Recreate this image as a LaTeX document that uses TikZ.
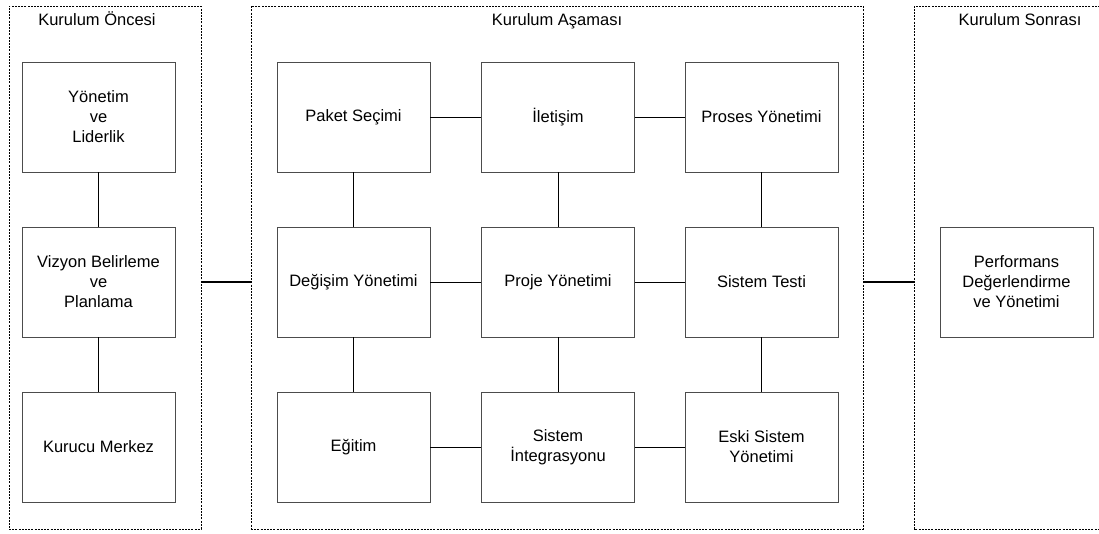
\documentclass[tikz,border=0pt]{standalone}
\usepackage{fontspec}
\setmainfont{Liberation Sans}
\begin{document}
\begin{tikzpicture}[x=1pt,y=-1pt,
  every node/.style={font=\fontsize{16.5}{20}\selectfont},
  blk/.style={draw=black!70, line width=0.9pt, minimum width=153pt, minimum height=110pt, inner sep=0pt, align=center},
  panel/.style={draw=black, line width=0.9pt, dash pattern=on 2pt off 1.2pt, inner sep=0pt},
  link/.style={draw=black, line width=0.9pt},
  thick link/.style={draw=black, line width=2pt},
  ttl/.style={inner sep=0pt, anchor=base}
]
\useasboundingbox (0,0) rectangle (1099,533);
% panels
\node[panel, minimum width=192pt, minimum height=523pt] (lp) at (105,267.5) {};
\node[panel, minimum width=612pt, minimum height=523pt] (mp) at (557,267.5) {};
\draw[panel] (1100,6) -- (914,6) -- (914,529) -- (1100,529);
\coordinate (rp) at (914,282);
% titles
\node[ttl] (t1) at (97,25) {Kurulum Öncesi};
\node[ttl] (t2) at (557,25) {Kurulum Aşaması};
\node[ttl] (t3) at (1020,25) {Kurulum Sonrası};
% left column
\node[blk] (yl) at (98.5,117) {Yönetim\\ve\\Liderlik};
\node[blk] (vb) at (98.5,282) {Vizyon Belirleme\\ve\\Planlama};
\node[blk] (km) at (98.5,447) {Kurucu Merkez};
% middle grid
\node[blk] (ps) at (353.5,117) {Paket Seçimi};
\node[blk] (il) at (558,117) {İletişim};
\node[blk] (py) at (761.5,117) {Proses Yönetimi};
\node[blk] (dy) at (353.5,282) {Değişim Yönetimi};
\node[blk] (pj) at (558,282) {Proje Yönetimi};
\node[blk] (st) at (761.5,282) {Sistem Testi};
\node[blk] (eg) at (353.5,447) {Eğitim};
\node[blk] (si) at (558,447) {Sistem\\İntegrasyonu};
\node[blk] (es) at (761.5,447) {Eski Sistem\\Yönetimi};
% right
\node[blk] (pd) at (1016.5,282) {Performans\\Değerlendirme\\ve Yönetimi};
% connectors
\draw[link] (yl) -- (vb);
\draw[link] (vb) -- (km);
\draw[link] (ps) -- (il);
\draw[link] (il) -- (py);
\draw[link] (dy) -- (pj);
\draw[link] (pj) -- (st);
\draw[link] (eg) -- (si);
\draw[link] (si) -- (es);
\draw[link] (ps) -- (dy);
\draw[link] (dy) -- (eg);
\draw[link] (il) -- (pj);
\draw[link] (pj) -- (si);
\draw[link] (py) -- (st);
\draw[link] (st) -- (es);
\draw[thick link] (lp.east |- vb.center) -- (mp.west |- vb.center);
\draw[thick link] (mp.east |- rp) -- (rp);
\end{tikzpicture}
\end{document}
